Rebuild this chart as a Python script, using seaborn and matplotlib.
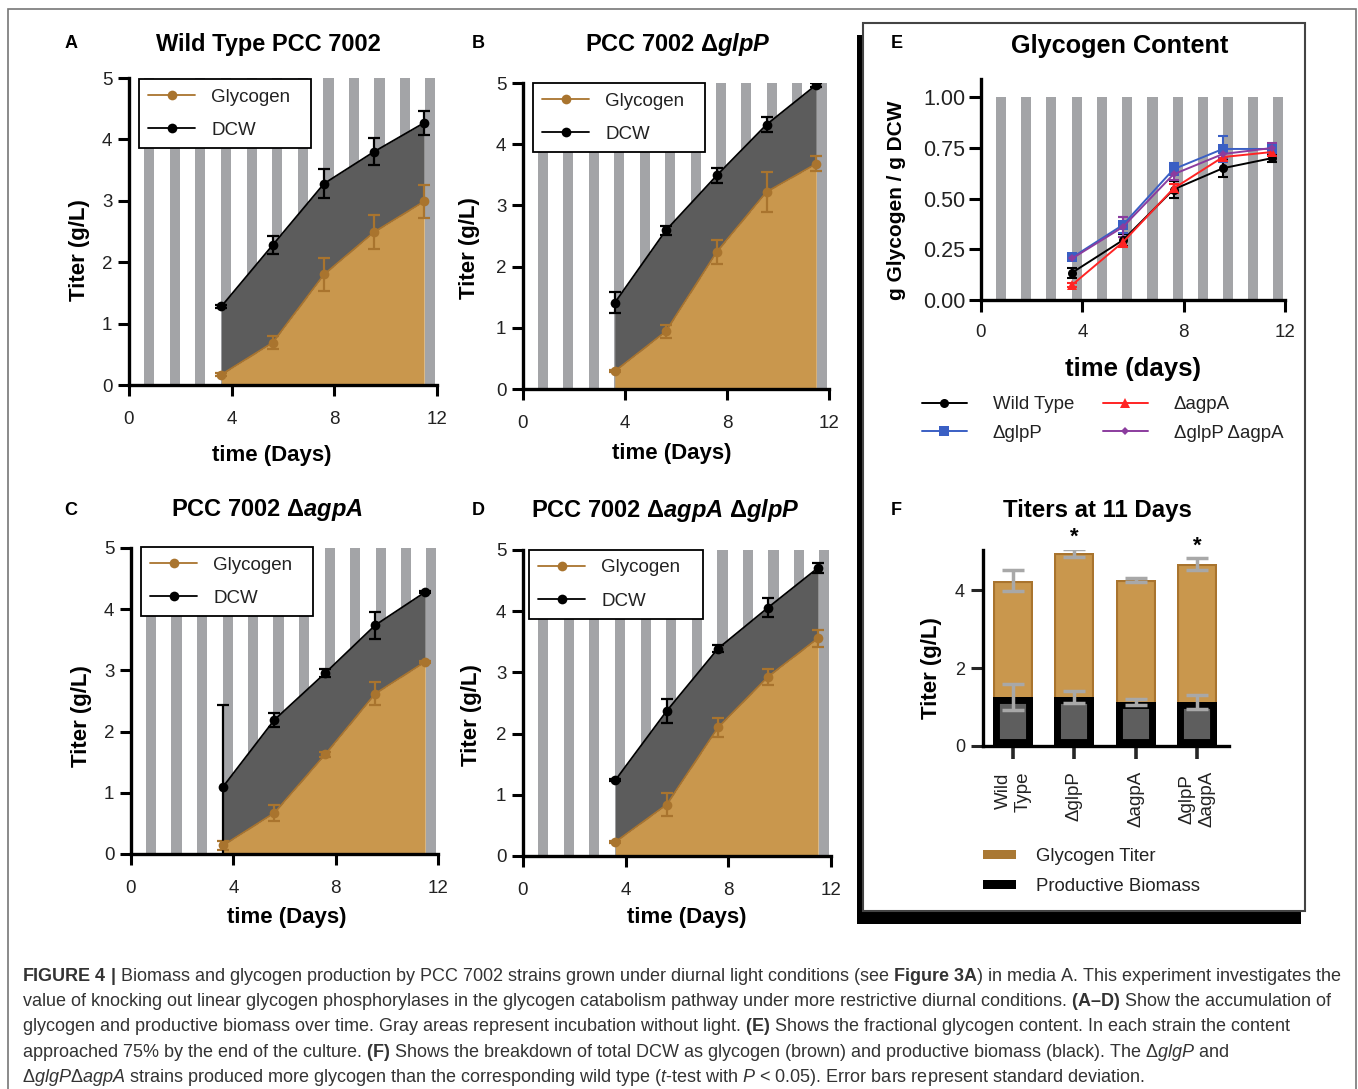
import matplotlib
matplotlib.use("Agg")
import matplotlib.pyplot as plt
import seaborn as sns
from matplotlib.patches import Rectangle, Patch

sns.set_style("ticks")
plt.rcParams['font.family'] = ['Liberation Sans', 'DejaVu Sans']
plt.rcParams['mathtext.fontset'] = 'custom'
plt.rcParams['mathtext.rm'] = 'Liberation Sans'
plt.rcParams['mathtext.it'] = 'Liberation Sans:italic'
plt.rcParams['mathtext.bf'] = 'Liberation Sans:bold'
plt.rcParams['mathtext.bfit'] = 'Liberation Sans:bold:italic'

W, H = 1358, 1089

# ---------------- data ----------------
days = [3.6, 5.6, 7.6, 9.55, 11.5]
dark_start = [0.58, 1.58, 2.58, 3.58, 4.58, 5.57, 6.57, 7.57, 8.56, 9.56, 10.55, 11.54]
dark_len = 0.4

wt_dcw = [1.28, 2.28, 3.28, 3.80, 4.27]
wt_dcw_err = [0.02, 0.15, 0.23, 0.22, 0.20]
wt_gly = [0.17, 0.69, 1.80, 2.49, 2.99]
wt_gly_err = [0.02, 0.11, 0.27, 0.28, 0.27]

glpP_dcw = [1.41, 2.59, 3.49, 4.32, 4.97]
glpP_dcw_err = [0.17, 0.07, 0.12, 0.12, 0.03]
glpP_gly = [0.29, 0.94, 2.24, 3.22, 3.68]
glpP_gly_err = [0.02, 0.10, 0.20, 0.33, 0.12]

agpA_dcw = [1.10, 2.19, 2.96, 3.74, 4.28]
agpA_dcw_err = [1.33, 0.12, 0.06, 0.22, 0.02]
agpA_gly = [0.14, 0.67, 1.63, 2.62, 3.14]
agpA_gly_err = [0.08, 0.13, 0.04, 0.19, 0.02]

dbl_dcw = [1.24, 2.37, 3.39, 4.06, 4.71]
dbl_dcw_err = [0.02, 0.20, 0.05, 0.15, 0.08]
dbl_gly = [0.23, 0.84, 2.10, 2.93, 3.56]
dbl_gly_err = [0.02, 0.19, 0.15, 0.13, 0.14]

# panel E: fractional glycogen content
e_labels = ['Wild Type', 'ΔglpP', 'ΔagpA', 'ΔglpP ΔagpA']
e_wt = [0.135, 0.295, 0.545, 0.650, 0.700]
e_wt_err = [0.025, 0.030, 0.040, 0.045, 0.020]
e_glpP = [0.210, 0.370, 0.645, 0.745, 0.745]
e_glpP_err = [0.012, 0.040, 0.030, 0.065, 0.020]
e_agpA = [0.075, 0.285, 0.550, 0.705, 0.730]
e_agpA_err = [0.010, 0.025, 0.020, 0.020, 0.020]
e_dbl = [0.205, 0.360, 0.620, 0.720, 0.750]
e_dbl_err = [0.010, 0.050, 0.030, 0.020, 0.025]

# panel F: titers at 11 days
f_cats = ['Wild\nType', 'ΔglpP', 'ΔagpA', 'ΔglpP\nΔagpA']
f_glycogen = [2.98, 3.70, 3.14, 3.55]
f_biomass = [1.26, 1.26, 1.12, 1.12]
f_total_err = [0.27, 0.10, 0.05, 0.16]
f_bio_err = [0.34, 0.16, 0.08, 0.18]
f_sig = [False, True, False, True]

# ---------------- style ----------------
STRIPE = '#a3a4a7'
GRAYFILL = '#5c5c5c'
TAN = '#c9974d'
BROWN = '#a9742e'
TXT = '#222222'

fig = plt.figure(figsize=(W / 100, H / 100), dpi=100)
fig.patch.set_facecolor('white')


def rect(x0, y0, x1, y1):
    return [x0 / W, 1 - y1 / H, (x1 - x0) / W, (y1 - y0) / H]


def add_rect(x0, y0, x1, y1, **kw):
    fig.add_artist(Rectangle((x0 / W, 1 - y1 / H), (x1 - x0) / W, (y1 - y0) / H,
                             transform=fig.transFigure, **kw))


def ftext(x, y, s, **kw):
    return fig.text(x / W, 1 - y / H, s, **kw)


# frames
add_rect(8, 9, 1356, 1110, fill=False, edgecolor='#777777', lw=1.2, zorder=-5)
add_rect(857, 35, 1301, 924, facecolor='black', edgecolor='none', zorder=-4)
add_rect(863, 23, 1305, 911, facecolor='white', edgecolor='#444444', lw=1.5, zorder=-3)


def style_axes(ax):
    for s in ['top', 'right']:
        ax.spines[s].set_visible(False)
    for s in ['left', 'bottom']:
        ax.spines[s].set_linewidth(2.4)
        ax.spines[s].set_color('black')
    ax.set_facecolor('none')


def place_labels(ax, box, xl, yl):
    x0, y0, x1, y1 = box
    if xl is not None:
        ax.xaxis.set_label_coords((xl[0] - x0) / (x1 - x0), (y1 - xl[1]) / (y1 - y0))
        ax.xaxis.label.set_verticalalignment('center')
    if yl is not None:
        ax.yaxis.set_label_coords((yl[0] - x0) / (x1 - x0), (y1 - yl[1]) / (y1 - y0))
        ax.yaxis.label.set_verticalalignment('center')


def growth_panel(box, dcw, dcw_err, gly, gly_err, leg_box, xl, yl):
    ax = fig.add_axes(rect(*box))
    style_axes(ax)
    for s in dark_start:
        ax.axvspan(s, s + dark_len, ymin=0, ymax=1, color=STRIPE, lw=0, zorder=0)
    ax.fill_between(days, gly, dcw, color=GRAYFILL, lw=0, zorder=1)
    ax.fill_between(days, 0, gly, color=TAN, lw=0, zorder=1)
    ax.errorbar(days, gly, yerr=gly_err, fmt='none', ecolor=BROWN, elinewidth=1.6,
                capsize=4, capthick=1.6, zorder=3)
    ax.errorbar(days, dcw, yerr=dcw_err, fmt='none', ecolor='black', elinewidth=1.6,
                capsize=4, capthick=1.6, zorder=3)
    sns.lineplot(x=days, y=gly, ax=ax, color=BROWN, marker='o', markersize=7,
                 markeredgewidth=0, linewidth=1.3, label='Glycogen', zorder=4)
    sns.lineplot(x=days, y=dcw, ax=ax, color='black', marker='o', markersize=7,
                 markeredgewidth=0, linewidth=1.3, label='DCW', zorder=4)
    ax.set_xlim(0, 12)
    ax.set_ylim(0, 5)
    ax.set_xticks([0, 4, 8, 12])
    ax.set_yticks([0, 1, 2, 3, 4, 5])
    ax.tick_params(axis='both', width=2.2, length=8, color='black', labelsize=13.5,
                   labelcolor=TXT)
    ax.tick_params(axis='x', pad=11)
    ax.tick_params(axis='y', pad=4)
    ax.set_xlabel('time (Days)', fontsize=16, fontweight='bold', color='black')
    ax.set_ylabel('Titer (g/L)', fontsize=16, fontweight='bold', color='black')
    place_labels(ax, box, xl, yl)
    h, l = ax.get_legend_handles_labels()
    lx0, ly0, lx1, ly1 = leg_box
    leg = ax.legend(h, l, loc='upper left',
                    bbox_to_anchor=(lx0 / W, 1 - ly0 / H, (lx1 - lx0) / W, 0),
                    bbox_transform=fig.transFigure, mode='expand', borderaxespad=0,
                    frameon=True, fancybox=False, edgecolor='black', framealpha=1,
                    fontsize=13.5, handlelength=2.5, handletextpad=0.85,
                    labelspacing=0.85, borderpad=0.5)
    leg.get_frame().set_linewidth(1.3)
    for t in leg.get_texts():
        t.set_color(TXT)
    leg.set_zorder(6)
    return ax


boxA = (129, 78, 437, 385)
boxB = (523, 83, 829, 389)
boxC = (131, 548, 438, 854)
boxD = (523, 550, 831, 856)

growth_panel(boxA, wt_dcw, wt_dcw_err, wt_gly, wt_gly_err, (139, 79, 311, 153),
             (272, 455), (80, 250))
growth_panel(boxB, glpP_dcw, glpP_dcw_err, glpP_gly, glpP_gly_err, (533, 83, 705, 159),
             (672, 454), (470, 248))
growth_panel(boxC, agpA_dcw, agpA_dcw_err, agpA_gly, agpA_gly_err, (141, 547, 313, 621),
             (287, 918), (82, 716))
growth_panel(boxD, dbl_dcw, dbl_dcw_err, dbl_gly, dbl_gly_err, (529, 550, 703, 624),
             (687, 918), (472, 715))

# titles and panel letters A-D
title_kw = dict(fontsize=17, fontweight='bold', ha='center', va='center', color='black')
letter_kw = dict(fontsize=13, fontweight='bold', ha='center', va='center', color='black')
ftext(268, 45, 'Wild Type PCC 7002', **title_kw)
ftext(678, 45, r'PCC 7002 Δ$\mathbfit{glpP}$', **title_kw)
ftext(267, 510, r'PCC 7002 Δ$\mathbfit{agpA}$', **title_kw)
ftext(665, 510, r'PCC 7002 Δ$\mathbfit{agpA}$ Δ$\mathbfit{glpP}$', **title_kw)
ftext(71, 43, 'A', **letter_kw)
ftext(478, 43, 'B', **letter_kw)
ftext(71, 510, 'C', **letter_kw)
ftext(478, 510, 'D', **letter_kw)

# ---------------- panel E ----------------
boxE = (981, 79, 1285, 300)
axE = fig.add_axes(rect(*boxE))
style_axes(axE)
E_TOP = 1.09
for s in dark_start:
    axE.axvspan(s, s + dark_len, ymin=0, ymax=1.0 / E_TOP, color=STRIPE, lw=0, zorder=0)
e_series = [(e_wt, e_wt_err, 'black', 'o', 6.5),
            (e_glpP, e_glpP_err, '#3a5fc4', 's', 6.5),
            (e_agpA, e_agpA_err, '#ff2424', '^', 6.5),
            (e_dbl, e_dbl_err, '#8b3c9e', 'D', 4.5)]
for (vals, err, c, m, ms), lab in zip(e_series, e_labels):
    axE.errorbar(days, vals, yerr=err, fmt='none', ecolor=c, elinewidth=1.5,
                 capsize=3.5, capthick=1.5, zorder=3)
    sns.lineplot(x=days, y=vals, ax=axE, color=c, marker=m, markersize=ms,
                 markeredgewidth=0, linewidth=1.4, label=lab, zorder=4)
axE.set_xlim(0, 12)
axE.set_ylim(0, E_TOP)
axE.set_xticks([0, 4, 8, 12])
axE.set_yticks([0, 0.25, 0.5, 0.75, 1.0])
axE.set_yticklabels(['0.00', '0.25', '0.50', '0.75', '1.00'])
axE.tick_params(axis='both', width=2.2, length=8.5, color='black', labelcolor=TXT)
axE.tick_params(axis='x', labelsize=13.5, pad=9)
axE.tick_params(axis='y', labelsize=15.5, pad=3)
axE.set_xlabel('time (days)', fontsize=18.5, fontweight='bold', color='black')
axE.set_ylabel('g Glycogen / g DCW', fontsize=15, fontweight='bold', color='black')
place_labels(axE, boxE, (1133, 369), (897, 200))
h, l = axE.get_legend_handles_labels()
legE = axE.legend(h, l, loc='upper left', bbox_to_anchor=(922 / W, 1 - 396 / H),
                  bbox_transform=fig.transFigure, ncol=2, frameon=False,
                  fontsize=13.4, handlelength=2.4, handletextpad=1.4,
                  columnspacing=1.55, labelspacing=0.62, borderpad=0, borderaxespad=0)
for t in legE.get_texts():
    t.set_color(TXT)
ftext(1120, 46, 'Glycogen Content', fontsize=18.2, fontweight='bold', ha='center',
      va='center', color='black')
ftext(897, 44, 'E', **letter_kw)

# ---------------- panel F ----------------
boxF = (983, 550, 1229, 746)
axF = fig.add_axes(rect(*boxF))
style_axes(axF)
f_total = [g + b for g, b in zip(f_glycogen, f_biomass)]
sns.barplot(x=f_cats, y=f_total, ax=axF, color=TAN, saturation=1, width=0.65,
            edgecolor=BROWN, linewidth=3.0, errorbar=None, zorder=2)
sns.barplot(x=f_cats, y=f_biomass, ax=axF, color='#5e5e5e', saturation=1, width=0.65,
            edgecolor='black', linewidth=10, errorbar=None, zorder=3)
for p in axF.patches:
    p.set_clip_path(p)
xs = list(range(len(f_cats)))
axF.errorbar(xs, f_total, yerr=f_total_err, fmt='none', ecolor='#a8a8a8', elinewidth=2.5,
             capsize=8, capthick=2.5, zorder=6)
axF.errorbar(xs, f_biomass, yerr=f_bio_err, fmt='none', ecolor='#a8a8a8', elinewidth=2.5,
             capsize=8, capthick=2.5, zorder=6)
for i, sig in enumerate(f_sig):
    if sig:
        axF.text(i, f_total[i] + f_total_err[i] + 0.02, '*', ha='center', va='bottom',
                 fontsize=16, fontweight='bold', color='black', clip_on=False)
axF.set_xlim(-0.49, 3.52)
axF.set_ylim(0, 5.03)
axF.set_yticks([0, 2, 4])
axF.set_xticks(xs)
axF.set_xticklabels(f_cats, rotation=90, fontsize=13.5, linespacing=1.25, color=TXT)
axF.tick_params(axis='y', width=2.2, length=9, labelsize=13, labelcolor=TXT, pad=4)
axF.tick_params(axis='x', width=2.6, length=9, pad=9)
axF.set_xlabel('')
axF.set_ylabel('Titer (g/L)', fontsize=16, fontweight='bold', color='black')
place_labels(axF, boxF, None, (931, 668))
legF = axF.legend([Patch(facecolor='#a97834', edgecolor='none'),
                   Patch(facecolor='black', edgecolor='none')],
                  ['Glycogen Titer', 'Productive Biomass'], loc='upper left',
                  bbox_to_anchor=(983 / W, 1 - 848 / H), bbox_transform=fig.transFigure,
                  frameon=False, fontsize=13.4, handlelength=1.75, handleheight=0.4,
                  handletextpad=1.1, labelspacing=0.7, borderpad=0, borderaxespad=0)
for t in legF.get_texts():
    t.set_color(TXT)
ftext(1097, 511, 'Titers at 11 Days', fontsize=17.3, fontweight='bold', ha='center',
      va='center', color='black')
ftext(896, 510, 'F', **letter_kw)

# ---------------- caption ----------------
cap_lines = [
    r'$\mathbf{FIGURE\ 4\ |}$ Biomass and glycogen production by PCC 7002 strains grown under '
    r'diurnal light conditions (see $\mathbf{Figure\ 3A}$) in media A. This experiment investigates the',
    r'value of knocking out linear glycogen phosphorylases in the glycogen catabolism pathway under '
    r'more restrictive diurnal conditions. $\mathbf{(A–D)}$ Show the accumulation of',
    r'glycogen and productive biomass over time. Gray areas represent incubation without light. '
    r'$\mathbf{(E)}$ Shows the fractional glycogen content. In each strain the content',
    r'approached 75% by the end of the culture. $\mathbf{(F)}$ Shows the breakdown of total DCW as '
    r'glycogen (brown) and productive biomass (black). The Δ$\mathit{glgP}$ and',
    r'Δ$\mathit{glgP}$Δ$\mathit{agpA}$ strains produced more glycogen than the corresponding wild '
    r'type ($\mathit{t}$-test with $\mathit{P}$ < 0.05). Error bars represent standard deviation.',
]
cap_y = [981, 1006, 1031, 1057, 1082]
cap_texts = [ftext(22, y, s, fontsize=12, color='#333333', ha='left', va='baseline')
             for s, y in zip(cap_lines, cap_y)]
renderer = fig.canvas.get_renderer()
w1 = cap_texts[0].get_window_extent(renderer).width
scale = 1320.0 / w1
for t in cap_texts:
    t.set_fontsize(12 * scale)

fig.savefig('out.png', dpi=100)
